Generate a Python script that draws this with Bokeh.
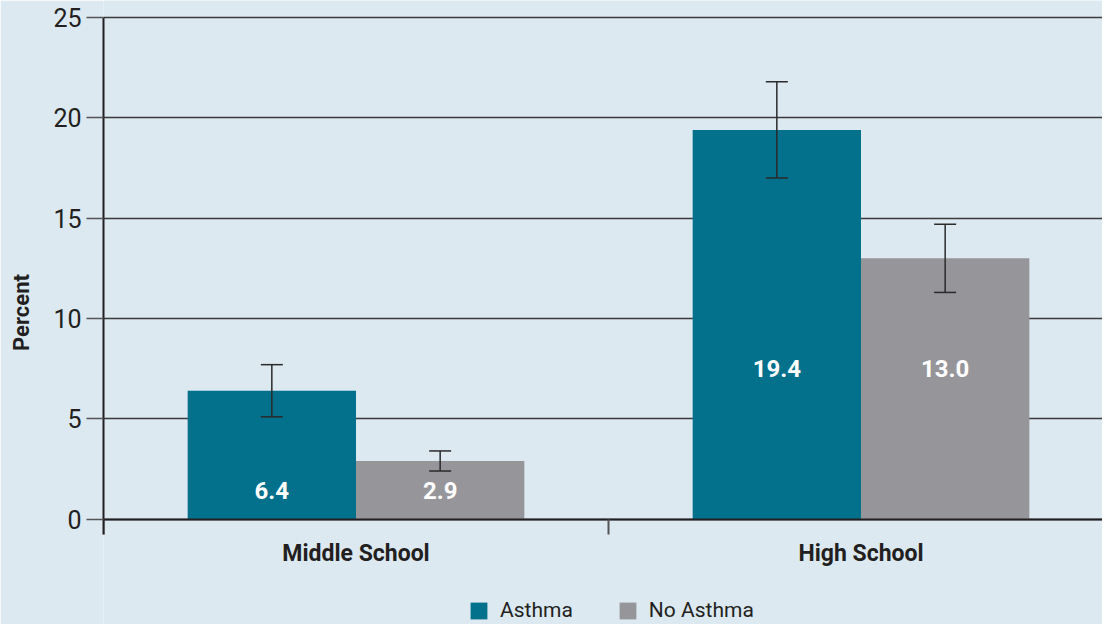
from bokeh.plotting import figure
from bokeh.models import (ColumnDataSource, FixedTicker, Whisker, TeeHead, Legend,
                          LegendItem, Range1d, LabelSet)
from bokeh.core.properties import value
from bokeh.embed import file_html
from bokeh.resources import INLINE

# ---- data ----
categories = ["Middle School", "High School"]
series = ["Asthma", "No Asthma"]
asthma = [6.4, 19.4]
no_asthma = [2.9, 13.0]
asthma_lower = [5.1, 17.0]
asthma_upper = [7.7, 21.8]
no_asthma_lower = [2.4, 11.3]
no_asthma_upper = [3.4, 14.7]
y_ticks = [0, 5, 10, 15, 20, 25]
y_title = "Percent"

# ---- styling / layout ----
BG = "#dce9f0"
TEAL = "#03708c"
GRAY = "#96969a"
INK = "#231f20"
FONT = "Roboto"
label_y = [1.45, 7.5]   # vertical placement of value labels per group
bar_w = 1 / 3

W, H = 1102, 624
left = 103
x_end = (W - left) / 505.0
y_lo, y_hi = -5.25, 25.85   # room under zero for labels/legend, and above 25

p = figure(width=W, height=H, output_backend="svg", toolbar_location=None,
           x_range=Range1d(0, x_end), y_range=Range1d(y_lo, y_hi),
           min_border_left=left, min_border_right=0, min_border_top=0,
           min_border_bottom=0)
p.background_fill_color = BG
p.border_fill_color = BG
p.outline_line_color = None

n = len(categories)
xa = [i + 1 / 3 for i in range(n)]
xn = [i + 2 / 3 for i in range(n)]

src_a = ColumnDataSource(dict(x=xa, top=asthma, lo=asthma_lower, hi=asthma_upper,
                              ly=label_y, txt=[f"{v:.1f}" for v in asthma]))
src_n = ColumnDataSource(dict(x=xn, top=no_asthma, lo=no_asthma_lower, hi=no_asthma_upper,
                              ly=label_y, txt=[f"{v:.1f}" for v in no_asthma]))

# grid
p.xgrid.grid_line_color = None
p.ygrid.ticker = FixedTicker(ticks=y_ticks)
p.ygrid.grid_line_color = "#3a3a3a"
p.ygrid.grid_line_width = 1.5

r_a = p.vbar(x="x", top="top", bottom=0, width=bar_w, source=src_a, fill_color=TEAL, line_color=None)
r_n = p.vbar(x="x", top="top", bottom=0, width=bar_w, source=src_n, fill_color=GRAY, line_color=None)

for src in (src_a, src_n):
    w = Whisker(base="x", upper="hi", lower="lo", source=src, level="annotation",
                line_color="#2a2a2a", line_width=1.5,
                upper_head=TeeHead(size=22, line_color="#2a2a2a", line_width=1.5),
                lower_head=TeeHead(size=22, line_color="#2a2a2a", line_width=1.5))
    p.add_layout(w)
    lab = LabelSet(x="x", y="ly", text="txt", source=src, text_color="white",
                   text_font=value(FONT), text_font_style="bold", text_font_size="24px",
                   text_align="center", text_baseline="middle")
    p.add_layout(lab)

# y axis
yax = p.yaxis[0]
yax.ticker = FixedTicker(ticks=y_ticks)
yax.bounds = (-0.75, 25)
yax.axis_label = y_title
yax.axis_label_text_font = FONT
yax.axis_label_text_font_style = "bold"
yax.axis_label_text_font_size = "22px"
yax.axis_label_text_color = INK
yax.axis_label_text_align = "left"
yax.axis_label_standoff = 16
yax.major_label_text_font = FONT
yax.major_label_text_font_size = "25px"
yax.major_label_text_color = INK
yax.major_label_standoff = 5
yax.major_tick_out = 17
yax.major_tick_in = 0
yax.major_tick_line_color = "#555555"
yax.major_tick_line_width = 1.5
yax.minor_tick_line_color = None
yax.axis_line_color = INK
yax.axis_line_width = 2

# x axis, drawn at y = 0
xax = p.xaxis[0]
xax.fixed_location = 0
xax.ticker = FixedTicker(ticks=[i + 0.5 for i in range(n)], minor_ticks=list(range(n + 1)))
xax.major_label_overrides = {i + 0.5: c for i, c in enumerate(categories)}
xax.major_label_text_font = FONT
xax.major_label_text_font_style = "bold"
xax.major_label_text_font_size = "23px"
xax.major_label_text_color = INK
xax.major_label_standoff = 6
xax.major_tick_out = 0
xax.major_tick_in = 0
xax.major_tick_line_color = None
xax.minor_tick_out = 15
xax.minor_tick_in = 0
xax.minor_tick_line_color = "#555555"
xax.minor_tick_line_width = 2
xax.axis_line_color = INK
xax.axis_line_width = 2

legend = Legend(items=[LegendItem(label=series[0], renderers=[r_a]),
                       LegendItem(label=series[1], renderers=[r_n])],
                location=(365, 2), orientation="horizontal",
                padding=0, margin=0, spacing=44, label_standoff=11,
                glyph_width=21, glyph_height=21,
                label_text_font=FONT, label_text_font_size="21px",
                label_text_color=INK, border_line_color=None,
                background_fill_alpha=0)
p.add_layout(legend, "center")

open("out.html", "w").write(file_html(p, INLINE))
